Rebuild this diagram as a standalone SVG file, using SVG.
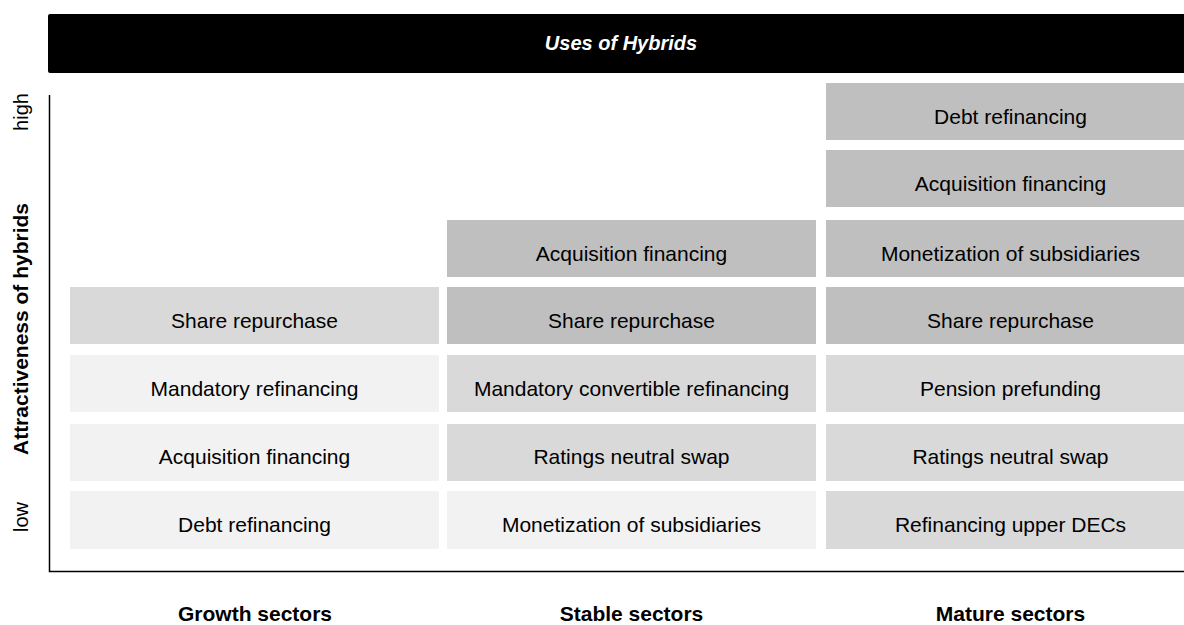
<svg xmlns="http://www.w3.org/2000/svg" width="1184" height="625" viewBox="0 0 1184 625">
<style>
  .box text, .lbl { font-family: "Liberation Sans", Arial, sans-serif; fill: #000; }
  .box text { font-size: 21px; text-anchor: middle; }
  .dark { fill: #bfbfbf; }
  .mid { fill: #d9d9d9; }
  .light { fill: #f2f2f2; }
  .axis { stroke: #000; stroke-width: 1.5; fill: none; }
  .bold { font-weight: bold; font-size: 21px; text-anchor: middle; }
  .tick { font-size: 20px; text-anchor: middle; }
</style>
<rect width="1184" height="625" fill="#fff"/>
<g id="header">
  <rect x="48" y="14" width="1150" height="59" rx="2" fill="#000"/>
  <text class="lbl" x="621" y="50" font-size="20" font-weight="bold" font-style="italic" text-anchor="middle" style="fill:#fff">Uses of Hybrids</text>
</g>
<g id="axes">
  <path class="axis" d="M49.5,95 V571.5 H1184"/>
</g>
<g id="y-labels">
  <text class="lbl tick" transform="translate(28,112) rotate(-90)">high</text>
  <text class="lbl bold" transform="translate(28,329) rotate(-90)">Attractiveness of hybrids</text>
  <text class="lbl tick" transform="translate(28,517) rotate(-90)">low</text>
</g>
<g id="x-labels">
  <text class="lbl bold" x="255" y="621">Growth sectors</text>
  <text class="lbl bold" x="631.5" y="621">Stable sectors</text>
  <text class="lbl bold" x="1010.5" y="621">Mature sectors</text>
</g>
<g id="growth">
  <g id="g-share" class="box"><rect class="mid" x="70" y="287" width="369" height="57"/><text x="254.5" y="328">Share repurchase</text></g>
  <g id="g-mandatory" class="box"><rect class="light" x="70" y="355" width="369" height="57"/><text x="254.5" y="396">Mandatory refinancing</text></g>
  <g id="g-acq" class="box"><rect class="light" x="70" y="424" width="369" height="57"/><text x="254.5" y="464">Acquisition financing</text></g>
  <g id="g-debt" class="box"><rect class="light" x="70" y="491" width="369" height="58"/><text x="254.5" y="532">Debt refinancing</text></g>
</g>
<g id="stable">
  <g id="s-acq" class="box"><rect class="dark" x="447" y="220" width="369" height="57"/><text x="631.5" y="261">Acquisition financing</text></g>
  <g id="s-share" class="box"><rect class="dark" x="447" y="287" width="369" height="57"/><text x="631.5" y="328">Share repurchase</text></g>
  <g id="s-mandatory" class="box"><rect class="mid" x="447" y="355" width="369" height="57"/><text x="631.5" y="396">Mandatory convertible refinancing</text></g>
  <g id="s-ratings" class="box"><rect class="mid" x="447" y="424" width="369" height="57"/><text x="631.5" y="464">Ratings neutral swap</text></g>
  <g id="s-monet" class="box"><rect class="light" x="447" y="491" width="369" height="58"/><text x="631.5" y="532">Monetization of subsidiaries</text></g>
</g>
<g id="mature">
  <g id="m-debt" class="box"><rect class="dark" x="826" y="83" width="369" height="57"/><text x="1010.5" y="124">Debt refinancing</text></g>
  <g id="m-acq" class="box"><rect class="dark" x="826" y="150" width="369" height="57"/><text x="1010.5" y="191">Acquisition financing</text></g>
  <g id="m-monet" class="box"><rect class="dark" x="826" y="220" width="369" height="57"/><text x="1010.5" y="261">Monetization of subsidiaries</text></g>
  <g id="m-share" class="box"><rect class="dark" x="826" y="287" width="369" height="57"/><text x="1010.5" y="328">Share repurchase</text></g>
  <g id="m-pension" class="box"><rect class="mid" x="826" y="355" width="369" height="57"/><text x="1010.5" y="396">Pension prefunding</text></g>
  <g id="m-ratings" class="box"><rect class="mid" x="826" y="424" width="369" height="57"/><text x="1010.5" y="464">Ratings neutral swap</text></g>
  <g id="m-refin" class="box"><rect class="mid" x="826" y="491" width="369" height="58"/><text x="1010.5" y="532">Refinancing upper DECs</text></g>
</g>
</svg>
